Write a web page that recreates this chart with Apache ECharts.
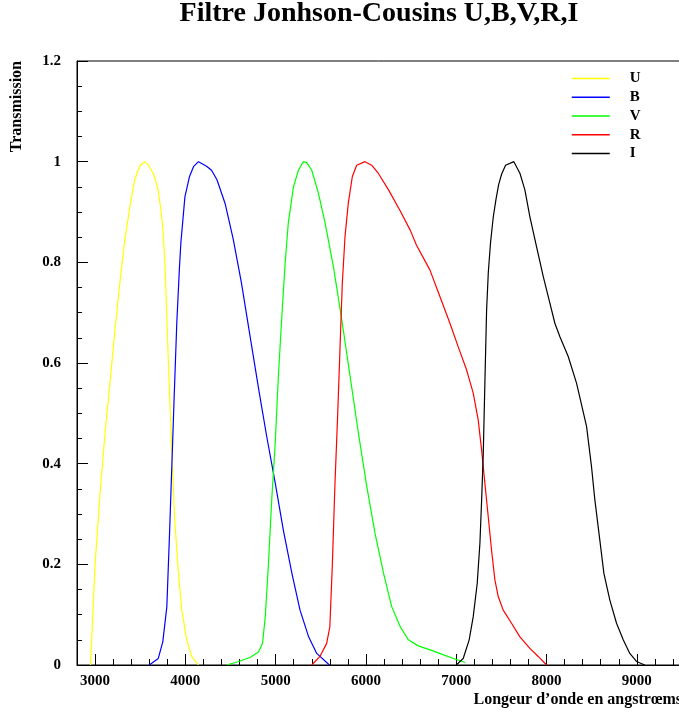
<!DOCTYPE html>
<html>
<head>
<meta charset="utf-8">
<script src="https://cdn.jsdelivr.net/npm/echarts@6/dist/echarts.min.js"></script>
<style>
html,body{margin:0;padding:0;background:#fff;}
#chart{width:679px;height:713px;}
</style>
</head>
<body>
<div id="chart"></div>
<script>
// ---- data (wavelength in Å, transmission) ----
const uWave  = [2950, 3000, 3055, 3110, 3165, 3220, 3275, 3330, 3385, 3440, 3500, 3550, 3590, 3645, 3695, 3730, 3755, 3775, 3795, 3820, 3850, 3880, 3920, 3960, 4015, 4070, 4145];
const uTrans = [0, 0.20, 0.34, 0.46, 0.56, 0.665, 0.76, 0.845, 0.91, 0.965, 0.993, 1.0, 0.993, 0.977, 0.947, 0.904, 0.858, 0.79, 0.69, 0.56, 0.427, 0.295, 0.19, 0.11, 0.05, 0.017, 0];

const bWave  = [3600, 3700, 3750, 3795, 3825, 3850, 3875, 3905, 3935, 3950, 3995, 4045, 4090, 4145, 4235, 4290, 4350, 4440, 4530, 4620, 4715, 4810, 4900, 4995, 5085, 5180, 5270, 5365, 5455, 5595];
const bTrans = [0, 0.013, 0.046, 0.116, 0.262, 0.394, 0.527, 0.679, 0.791, 0.838, 0.930, 0.970, 0.990, 1.0, 0.991, 0.983, 0.964, 0.917, 0.846, 0.76, 0.655, 0.55, 0.455, 0.362, 0.268, 0.182, 0.109, 0.056, 0.023, 0];

const vWave  = [4460, 4590, 4715, 4810, 4855, 4885, 4920, 4957, 4995, 5030, 5068, 5105, 5140, 5197, 5252, 5307, 5344, 5400, 5474, 5548, 5640, 5733, 5825, 5917, 6010, 6100, 6195, 6285, 6380, 6470, 6580, 6710, 6860, 6970, 7100];
const vTrans = [0, 0.007, 0.015, 0.026, 0.043, 0.096, 0.20, 0.33, 0.44, 0.573, 0.692, 0.798, 0.878, 0.950, 0.983, 1.0, 0.998, 0.983, 0.937, 0.878, 0.791, 0.685, 0.573, 0.46, 0.354, 0.262, 0.182, 0.116, 0.076, 0.050, 0.038, 0.030, 0.020, 0.013, 0.005];

const rWave  = [5400, 5490, 5565, 5600, 5627, 5657, 5686, 5712, 5738, 5768, 5804, 5849, 5897, 5989, 6063, 6136, 6250, 6380, 6490, 6560, 6708, 6819, 6930, 7022, 7115, 7188, 7243, 7281, 7317, 7354, 7391, 7428, 7465, 7520, 7612, 7705, 7815, 7908, 8000];
const rTrans = [0, 0.017, 0.043, 0.076, 0.195, 0.361, 0.493, 0.626, 0.758, 0.851, 0.917, 0.970, 0.993, 1.0, 0.993, 0.977, 0.944, 0.902, 0.864, 0.834, 0.785, 0.732, 0.679, 0.632, 0.586, 0.540, 0.487, 0.427, 0.361, 0.295, 0.228, 0.169, 0.136, 0.109, 0.083, 0.056, 0.033, 0.017, 0];

const iWave  = [7000, 7077, 7143, 7188, 7232, 7262, 7281, 7299, 7317, 7336, 7355, 7380, 7410, 7440, 7470, 7502, 7546, 7638, 7705, 7760, 7815, 7889, 7963, 8037, 8092, 8148, 8240, 8332, 8443, 8498, 8535, 8590, 8635, 8701, 8775, 8849, 8922, 8996, 9088];
const iTrans = [0, 0.013, 0.050, 0.096, 0.162, 0.242, 0.328, 0.42, 0.560, 0.705, 0.78, 0.84, 0.89, 0.925, 0.955, 0.975, 0.993, 1.0, 0.977, 0.944, 0.891, 0.831, 0.772, 0.719, 0.679, 0.652, 0.613, 0.560, 0.474, 0.394, 0.328, 0.248, 0.182, 0.129, 0.083, 0.050, 0.023, 0.007, 0];

const seriesNames = ['U', 'B', 'V', 'R', 'I'];
const xMajorTicks = [3000, 4000, 5000, 6000, 7000, 8000, 9000];
const xMinorTicks = [3200, 3400, 3600, 3800, 4200, 4400, 4600, 4800, 5200, 5400, 5600, 5800, 6200, 6400, 6600, 6800, 7200, 7400, 7600, 7800, 8200, 8400, 8600, 8800, 9200, 9400];

// ---- build ----
const FONT = 'Liberation Serif';
const zip = (xs, ys) => xs.map((x, i) => [x, ys[i]]);
const waves = [uWave, bWave, vWave, rWave, iWave];
const trans = [uTrans, bTrans, vTrans, rTrans, iTrans];
const colors = ['#ffff00', '#0000ff', '#00ff00', '#ff0000', '#000000'];

const chart = echarts.init(document.getElementById('chart'), null, {renderer: 'canvas'});
const txt = (size) => ({fontFamily: FONT, fontWeight: 'bold', fontSize: size, color: '#000'});

chart.setOption({
  animation: false,
  backgroundColor: '#fff',
  title: {
    text: 'Filtre Jonhson-Cousins U,B,V,R,I',
    left: 379, top: 0, padding: 0,
    textAlign: 'center', textVerticalAlign: 'top',
    textStyle: txt(28)
  },
  legend: {
    orient: 'vertical',
    left: 571, top: 71,
    itemWidth: 38, itemHeight: 14, itemGap: 3.75,
    padding: 0,
    data: seriesNames,
    itemStyle: {opacity: 0},
    lineStyle: {width: 1.5},
    textStyle: Object.assign(txt(15), {padding: [0, 0, 0, 15]})
  },
  grid: {
    left: 77, right: -3, top: 61, bottom: 48,
    outerBoundsMode: 'none',
    containLabel: false,
    show: true, borderColor: '#000', borderWidth: 1, backgroundColor: 'transparent'
  },
  xAxis: [{
    type: 'value', min: 2800, max: 9500,
    name: 'Longeur d\u2019onde en angstr\u0153ms',
    nameLocation: 'end', nameGap: 0, nameMoveOverlap: false,
    nameTextStyle: Object.assign(txt(16), {align: 'right', verticalAlign: 'top', padding: [27, 0, 0, 0]}),
    axisLine: {show: true, onZero: false, lineStyle: {color: '#000', width: 1}},
    axisTick: {show: true, inside: true, length: 11, customValues: xMajorTicks, lineStyle: {color: '#000', width: 1}},
    axisLabel: Object.assign(txt(15), {customValues: xMajorTicks, margin: 9, formatter: (v) => String(v)}),
    splitLine: {show: false}
  }, {
    type: 'value', min: 2800, max: 9500, position: 'bottom',
    axisLine: {show: false},
    axisTick: {show: true, inside: true, length: 6, customValues: xMinorTicks, lineStyle: {color: '#000', width: 1}},
    axisLabel: {show: false},
    splitLine: {show: false}
  }],
  yAxis: {
    type: 'value', min: 0, max: 1.2, interval: 0.2,
    name: 'Transmission',
    nameLocation: 'end', nameGap: 0, nameRotate: 90, nameMoveOverlap: false,
    nameTextStyle: Object.assign(txt(16), {align: 'right', verticalAlign: 'bottom', padding: [0, 0, 52, 0]}),
    axisLine: {show: true, onZero: false, lineStyle: {color: '#000', width: 1}},
    axisTick: {show: true, inside: true, length: 11, lineStyle: {color: '#000', width: 1}},
    minorTick: {show: true, splitNumber: 4, length: 5, lineStyle: {color: '#000', width: 1}},
    axisLabel: Object.assign(txt(15), {margin: 16}),
    splitLine: {show: false}
  },
  series: seriesNames.map((name, k) => ({
    name: name,
    type: 'line',
    xAxisIndex: 0,
    symbol: 'none',
    smooth: false,
    color: colors[k],
    lineStyle: {color: colors[k], width: 1.2},
    data: zip(waves[k], trans[k])
  }))
});
</script>
</body>
</html>
